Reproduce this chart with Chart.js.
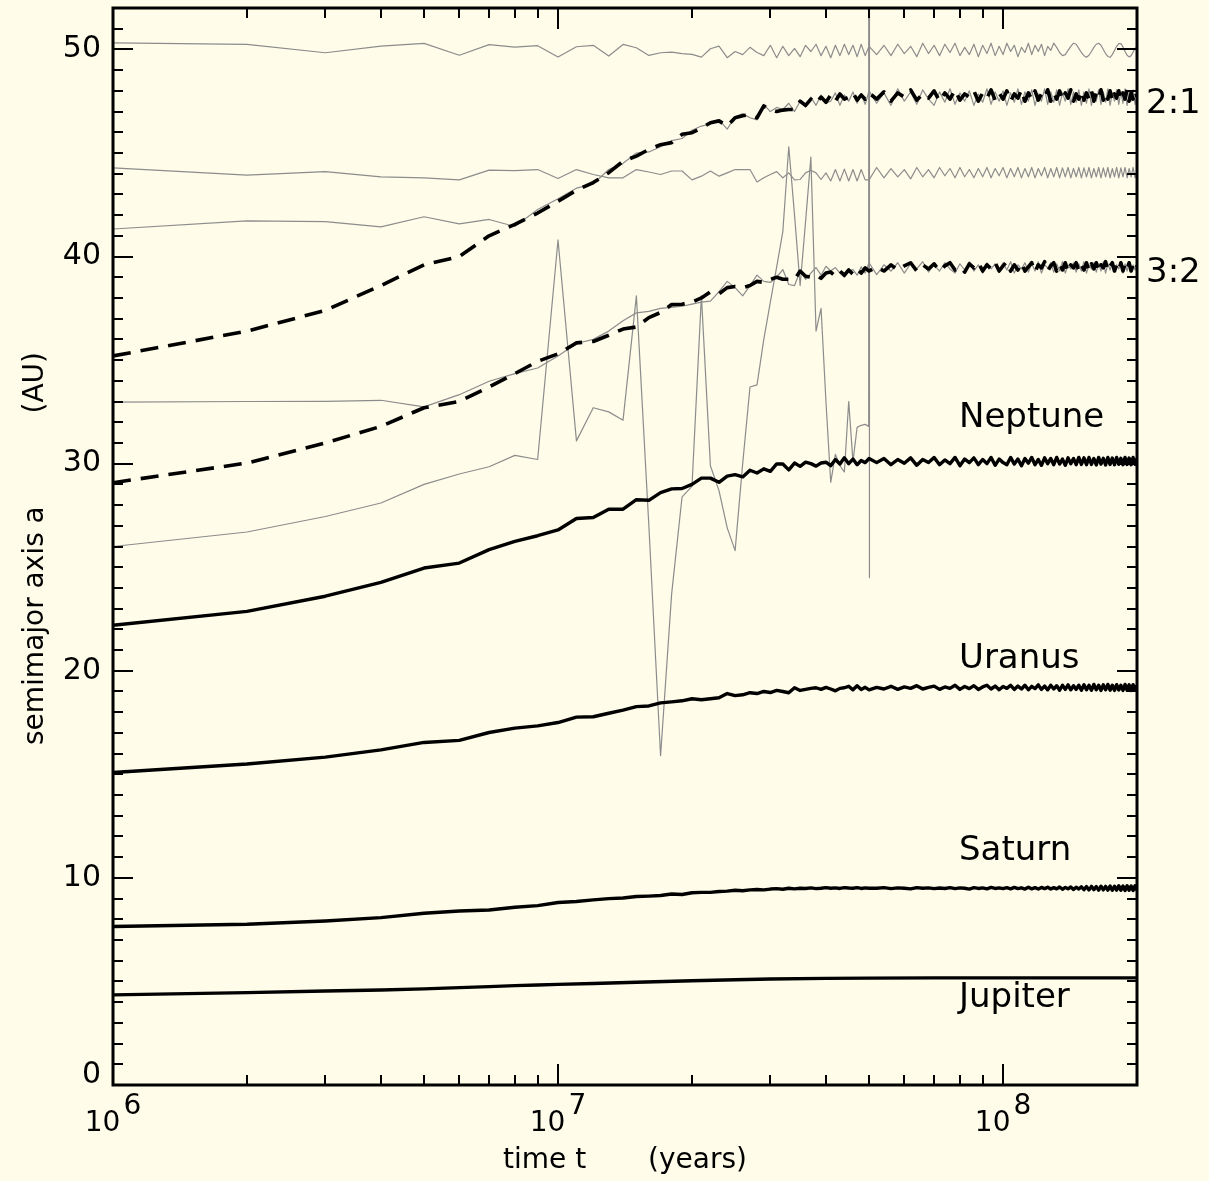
<!DOCTYPE html>
<html>
<head>
<meta charset="utf-8">
<title>Semimajor axis vs time</title>
<script src="https://cdn.jsdelivr.net/npm/chart.js@4.4.1/dist/chart.umd.min.js"></script>
<style>
  html, body { margin: 0; padding: 0; background: #fffcea; }
  #wrap { width: 1209px; height: 1181px; }
</style>
</head>
<body>
<div id="wrap"><canvas id="chart" width="1209" height="1181"></canvas></div>
<script>
// ---- Data (time in Myr, semimajor axis in AU) ----
const timeMyr = [1,2,3,4,5,6,7,8,9,10,11,12,13,14,15,16,17,18,19,20,21,22,23,24,25,
  26,27,28,29,30,31,32,33,34,35,36,37,38,39,40,41,42,43,44,45,46,47,48,49,50,
  52,54,56,58,60,62,64,66,68,70,72,74,76,78,80,82,84,86,88,90,92,94,96,98,100,
  102,104,106,108,110,112,114,116,118,120,122,124,126,128,130,132,134,136,138,140,142,144,146,148,150,
  152,154,156,158,160,162,164,166,168,170,172,174,176,178,180,182,184,186,188,190,192,194,196,198,200];
const timeSmooth = [1,2,3,4,5,6,7,8,9,10,12,15,20,25,30,40,50,70,100,200];
const timeScatter = [1,2,3,4,5,6,7,8,9,10,11,12,13,14,15,16,17,18,19,20,21,22,23,24,25,
  26,27,28,29,30,31,32,33,34,35,36,37,38,39,40,41,42,43,44,45,46,47,48,49,49.9,50,50.1];

const jupiterAU = [4.35,4.46,4.54,4.59,4.64,4.70,4.75,4.80,4.83,4.86,4.90,4.96,5.03,5.08,5.12,5.15,5.16,5.17,5.17,5.17];

const saturnAU = [7.65,7.76,7.92,8.08,8.29,8.40,8.45,8.58,8.66,8.81,
  8.86,8.94,9.00,9.03,9.10,9.12,9.15,9.22,9.20,9.28,
  9.30,9.30,9.34,9.36,9.40,9.38,9.42,9.44,9.42,9.46,
  9.48,9.45,9.50,9.47,9.50,9.49,9.52,9.48,9.50,9.53,
  9.50,9.52,9.49,9.53,9.51,9.50,9.53,9.49,9.52,9.50,
  9.50,9.53,9.48,9.52,9.50,9.47,9.53,9.50,9.52,9.48,9.51,9.49,9.53,9.48,9.52,9.50,9.46,9.53,9.49,9.52,9.47,9.54,9.49,9.52,9.48,
  9.53,9.47,9.54,9.48,9.52,9.46,9.55,9.47,9.53,9.46,9.54,9.48,9.55,9.46,9.53,9.47,9.56,9.45,9.54,9.47,9.56,9.44,9.55,9.46,9.57,
  9.43,9.58,9.42,9.59,9.43,9.58,9.41,9.60,9.42,9.59,9.41,9.61,9.40,9.60,9.41,9.62,9.40,9.61,9.39,9.62,9.40,9.61,9.39,9.62,9.40];

const uranusAU = [15.09,15.50,15.83,16.18,16.54,16.64,17.02,17.23,17.34,17.50,
  17.76,17.78,17.95,18.10,18.27,18.30,18.45,18.50,18.55,18.65,
  18.60,18.65,18.70,18.90,18.80,18.84,18.94,18.90,19.00,18.95,
  19.05,19.00,18.94,19.18,19.05,19.10,19.15,19.18,19.10,19.20,
  19.12,19.03,19.15,19.18,19.25,19.08,19.28,19.10,19.20,19.08,
  19.20,19.12,19.25,19.10,19.22,19.15,19.28,19.12,19.20,19.26,19.10,19.22,19.15,19.30,19.10,19.24,19.14,19.28,19.10,19.22,19.30,19.12,19.26,19.08,19.24,
  19.15,19.30,19.10,19.26,19.12,19.30,19.08,19.25,19.14,19.32,19.10,19.26,19.08,19.30,19.12,19.28,19.06,19.30,19.10,19.32,19.08,19.28,19.10,19.30,19.06,
  19.32,19.08,19.30,19.06,19.34,19.08,19.30,19.05,19.32,19.08,19.34,19.06,19.30,19.05,19.33,19.07,19.30,19.05,19.34,19.06,19.32,19.05,19.33,19.07,19.30];

const neptuneAU = [22.20,22.87,23.60,24.27,24.96,25.20,25.85,26.25,26.52,26.80,
  27.35,27.40,27.80,27.80,28.26,28.23,28.60,28.78,28.80,29.00,
  29.30,29.30,29.10,29.40,29.47,29.36,29.68,29.55,29.75,29.63,
  29.99,29.98,29.70,30.03,29.87,30.07,30.00,29.88,30.03,30.07,
  29.90,30.20,29.98,30.28,30.00,30.22,29.95,30.15,30.05,30.25,
  30.05,30.25,29.95,30.20,30.02,30.28,29.92,30.20,30.05,30.30,29.95,30.18,30.00,30.30,29.90,30.22,30.05,30.28,29.95,30.20,30.00,30.30,29.92,30.22,30.05,
  29.95,30.30,29.98,30.22,29.90,30.25,30.02,30.30,29.95,30.20,29.92,30.28,30.00,30.25,29.95,30.30,29.98,30.22,29.92,30.28,30.00,30.25,29.95,30.30,29.96,
  30.28,29.95,30.30,29.96,30.25,29.94,30.30,29.98,30.26,29.94,30.30,29.96,30.27,29.95,30.30,29.97,30.26,29.95,30.30,29.96,30.27,29.95,30.30,29.97,30.25];

// resonance tracks (dashed)
const res32AU = [29.08,30.03,31.00,31.80,32.70,33.00,33.70,34.35,34.94,35.30,
  35.83,35.90,36.20,36.50,36.60,37.05,37.30,37.68,37.70,37.80,
  38.00,38.30,38.20,38.50,38.55,38.50,38.60,38.80,38.75,38.90,
  39.00,38.90,38.90,38.90,39.30,39.05,39.00,39.10,38.95,39.20,
  39.25,39.05,39.30,39.10,39.35,39.15,39.40,39.20,39.45,39.30,
  39.50,39.30,39.60,39.35,39.55,39.70,39.30,39.60,39.40,39.65,39.30,39.55,39.70,39.35,39.50,39.25,39.65,39.45,39.70,39.30,39.60,39.40,39.70,39.30,39.55,
  39.75,39.30,39.60,39.35,39.70,39.30,39.50,39.70,39.25,39.60,39.45,39.75,39.30,39.55,39.70,39.30,39.65,39.35,39.70,39.25,39.60,39.45,39.70,39.30,39.60,
  39.35,39.70,39.30,39.65,39.40,39.70,39.25,39.60,39.45,39.75,39.30,39.55,39.70,39.30,39.60,39.35,39.70,39.30,39.65,39.40,39.70,39.30,39.60,39.35,39.55];

const res21AU = [35.20,36.40,37.40,38.60,39.60,40.00,41.00,41.55,42.10,42.67,
  43.20,43.57,44.05,44.60,44.85,45.17,45.40,45.50,45.90,45.98,
  46.20,46.46,46.55,46.30,46.70,46.80,46.86,46.70,47.27,47.10,
  47.00,47.07,47.10,47.10,47.50,47.30,47.60,47.40,47.70,47.45,
  47.80,47.50,47.85,47.60,47.70,47.90,47.55,47.80,47.60,47.90,
  47.60,47.95,47.50,47.90,47.70,48.05,47.55,47.85,47.65,48.00,47.50,47.90,47.60,48.05,47.55,47.85,47.70,48.00,47.50,47.90,47.65,48.05,47.55,47.90,47.60,
  48.00,47.50,47.85,47.65,48.05,47.50,47.90,47.60,48.00,47.55,47.85,47.65,48.05,47.50,47.90,47.60,48.00,47.55,47.90,47.65,48.05,47.50,47.85,47.60,48.00,
  47.55,47.90,47.60,48.00,47.50,47.90,47.65,48.05,47.55,47.90,47.60,48.00,47.50,47.85,47.65,48.00,47.55,47.90,47.60,48.05,47.50,47.90,47.60,48.00,47.70];

// test particles (thin grey)
const particle50AU = [50.32,50.24,49.84,50.16,50.29,49.72,50.23,50.11,50.18,49.63,
  50.13,50.20,49.68,50.24,50.08,49.71,49.84,49.87,49.80,49.76,
  49.63,50.03,50.16,49.60,49.90,49.75,50.10,49.85,49.70,50.20,
  49.60,50.15,49.70,50.05,49.65,50.20,49.90,50.25,49.70,50.15,
  49.60,50.20,49.70,50.25,49.75,50.20,49.65,50.25,49.70,50.15,
  49.75,50.20,49.70,50.25,49.80,50.15,49.65,50.30,49.80,50.20,49.70,50.25,49.85,50.30,49.70,50.10,49.75,50.25,49.65,50.20,49.80,50.30,49.70,50.15,49.75,
  50.30,49.90,50.20,49.65,50.10,49.85,50.30,49.75,50.20,49.90,50.25,49.70,50.15,49.95,50.30,50.10,49.85,49.70,49.75,49.95,50.15,50.30,50.25,50.05,49.85,
  49.70,49.62,49.72,49.90,50.10,50.25,50.30,50.20,50.00,49.80,49.66,49.62,49.75,49.95,50.15,50.28,50.28,50.12,49.90,49.72,49.64,49.70,49.88,50.05,50.10];

const particle44AU = [44.28,43.93,44.10,43.85,43.80,43.70,44.17,44.15,44.20,43.77,
  44.20,43.96,43.80,43.80,44.20,44.08,43.96,44.13,44.13,43.70,
  43.88,44.13,43.88,44.04,44.20,44.20,44.20,43.60,43.80,43.96,
  44.10,43.80,44.04,43.70,43.72,44.04,44.17,44.04,43.72,44.04,
  43.65,44.20,43.65,44.22,43.65,44.20,43.65,44.20,43.70,43.70,
  44.30,43.80,44.25,43.85,44.20,43.75,44.30,43.85,44.20,43.80,44.30,43.90,44.25,43.80,44.30,43.85,44.20,43.80,44.25,43.85,44.30,43.80,44.25,43.90,44.30,
  43.80,44.25,43.85,44.30,43.80,44.25,43.85,44.30,43.80,44.25,43.90,44.30,43.80,44.25,43.85,44.30,43.80,44.28,43.85,44.30,43.80,44.25,43.85,44.30,43.80,
  44.28,43.85,44.30,43.80,44.25,43.85,44.30,43.80,44.28,43.85,44.30,43.80,44.25,43.85,44.30,43.80,44.28,43.85,44.30,43.80,44.25,43.85,44.30,43.80,44.05];

const particle41AU = [41.33,41.72,41.69,41.43,41.92,41.58,41.79,41.45,42.27,42.79,
  43.30,43.50,44.20,44.50,45.00,45.05,45.30,45.60,45.70,46.10,
  46.30,46.40,46.60,46.15,46.75,46.90,46.70,46.60,47.35,47.00,
  47.20,47.10,47.40,47.00,47.50,47.20,47.70,47.30,47.80,47.40,
  47.50,47.90,47.30,47.80,47.50,47.95,47.40,47.85,47.35,48.00,
  47.40,47.90,47.30,48.10,47.50,47.95,47.35,48.05,47.60,47.30,47.95,47.45,48.10,47.35,47.90,47.50,48.00,47.30,47.85,47.45,48.10,47.35,47.95,47.50,48.00,
  47.30,47.90,47.45,48.10,47.35,47.95,47.50,48.05,47.30,47.85,47.50,48.10,47.35,47.95,47.45,48.05,47.30,47.90,47.50,48.10,47.35,47.95,47.45,48.05,47.30,
  47.95,47.40,48.10,47.30,47.90,47.50,48.05,47.35,47.95,47.45,48.10,47.30,47.90,47.50,48.05,47.35,47.95,47.40,48.10,47.30,47.90,47.50,48.05,47.35,47.80];

const particle33AU = [32.97,33.00,33.01,33.06,32.74,33.33,33.98,34.35,34.62,35.20,
  35.80,36.00,36.40,36.90,37.28,37.35,37.50,37.55,37.60,37.70,
  37.80,37.85,38.30,38.80,38.50,38.10,38.60,39.10,38.80,38.75,
  39.00,39.37,38.65,38.60,39.30,38.90,39.20,39.47,39.10,39.53,
  39.30,39.47,39.20,39.00,39.30,39.37,39.10,39.50,39.20,39.70,
  39.13,39.60,39.30,39.70,39.20,39.65,39.40,39.75,39.25,39.60,39.30,39.70,39.40,39.20,39.65,39.35,39.75,39.30,39.60,39.20,39.70,39.40,39.65,39.25,39.70,
  39.35,39.75,39.20,39.60,39.40,39.70,39.25,39.65,39.30,39.75,39.20,39.60,39.45,39.70,39.25,39.65,39.30,39.75,39.20,39.60,39.40,39.70,39.25,39.65,39.30,
  39.75,39.20,39.60,39.40,39.70,39.25,39.65,39.30,39.75,39.20,39.65,39.35,39.70,39.25,39.60,39.40,39.75,39.20,39.65,39.30,39.70,39.25,39.60,39.35,39.70];

// scattered particle, ejected near 50 Myr
const particle26AU = [26.00,26.70,27.45,28.10,29.00,29.50,29.85,30.40,30.20,40.80,
  31.10,32.70,32.50,32.10,38.10,27.00,15.90,23.70,28.40,28.90,
  38.10,29.90,28.70,26.90,25.80,30.00,33.70,33.80,36.00,37.80,
  39.50,41.20,45.30,42.00,38.60,41.70,44.80,36.40,37.50,33.00,
  29.10,30.45,29.90,29.60,33.00,30.10,31.75,31.85,31.90,31.80,300,24.50];

// axis ticks and labels
const yTickLabels = [0, 10, 20, 30, 40, 50];
const xMajorMyr = [1, 10, 100];
const xMinorMyr = [2,3,4,5,6,7,8,9,20,30,40,50,60,70,80,90,200];
const planetLabels = ["Jupiter", "Saturn", "Uranus", "Neptune"];
const resonanceLabels = ["2:1", "3:2"];

// ---- Helpers ----
const BG = "#fffcea";
const GREY = "#8c8c8c";
const FONT = '"DejaVu Sans", "Liberation Sans", sans-serif';

function pts(times, values) {
  const n = Math.min(times.length, values.length);
  const out = [];
  for (let i = 0; i < n; i++) out.push({ x: times[i], y: values[i] });
  return out;
}

function greyLine(times, values) {
  return { data: pts(times, values), borderColor: GREY, borderWidth: 1.2, order: 3 };
}
function planetLine(times, values) {
  return { data: pts(times, values), borderColor: "#000", borderWidth: 3.4, order: 1 };
}
function resonanceLine(times, values) {
  return { data: pts(times, values), borderColor: "#000", borderWidth: 3.6, borderDash: [18, 10], order: 2 };
}

// ---- Plugins ----
const backgroundPlugin = {
  id: "background",
  beforeDraw(chart) {
    const c = chart.ctx;
    c.save();
    c.fillStyle = BG;
    c.fillRect(0, 0, chart.width, chart.height);
    c.restore();
  }
};

const framePlugin = {
  id: "frame",
  afterDraw(chart) {
    const { ctx, chartArea: a } = chart;
    const x = chart.scales.x, y = chart.scales.y;

    function seg(x1, y1, x2, y2) {
      ctx.beginPath();
      ctx.moveTo(x1, y1);
      ctx.lineTo(x2, y2);
      ctx.stroke();
    }

    ctx.save();
    ctx.strokeStyle = "#000";
    ctx.lineWidth = 2;

    // y ticks every 1 AU, longer every 10
    for (let v = 1; v < y.max; v++) {
      const py = Math.round(y.getPixelForValue(v));
      const len = v % 10 === 0 ? 20 : 10;
      seg(a.left, py, a.left + len, py);
      seg(a.right, py, a.right - len, py);
    }
    // x ticks
    xMinorMyr.forEach((m) => {
      const px = Math.round(x.getPixelForValue(m));
      seg(px, a.bottom, px, a.bottom - 10);
      seg(px, a.top, px, a.top + 10);
    });
    xMajorMyr.forEach((m) => {
      const px = Math.round(x.getPixelForValue(m));
      seg(px, a.bottom, px, a.bottom - 21);
      seg(px, a.top, px, a.top + 21);
    });

    // frame
    ctx.lineWidth = 3;
    ctx.strokeRect(a.left, a.top, a.right - a.left, a.bottom - a.top);

    // y tick labels
    ctx.fillStyle = "#000";
    ctx.font = "30px " + FONT;
    ctx.textAlign = "right";
    ctx.textBaseline = "middle";
    yTickLabels.forEach((v) => {
      const py = Math.min(y.getPixelForValue(v), a.bottom - 10);
      ctx.fillText(String(v), 101, py);
    });

    // x tick labels: 10^n
    ctx.textAlign = "left";
    ctx.textBaseline = "alphabetic";
    ctx.font = "28px " + FONT;
    xMajorMyr.forEach((m) => {
      const px = x.getPixelForValue(m);
      const exp = String(6 + Math.round(Math.log10(m)));
      const w10 = ctx.measureText("10").width;
      const we = ctx.measureText(exp).width;
      const x0 = px - (w10 + we + 3) / 2;
      ctx.fillText("10", x0, 1131);
      ctx.fillText(exp, x0 + w10 + 3, 1114);
    });

    // axis titles
    ctx.font = "28px " + FONT;
    ctx.fillText("time t", 503, 1168);
    ctx.fillText("(years)", 648, 1168);

    ctx.save();
    ctx.translate(43, 745);
    ctx.rotate(-Math.PI / 2);
    ctx.textAlign = "left";
    ctx.fillText("semimajor axis a", 0, 0);
    ctx.restore();
    ctx.save();
    ctx.translate(43, 352);
    ctx.rotate(-Math.PI / 2);
    ctx.textAlign = "right";
    ctx.fillText("(AU)", 0, 0);
    ctx.restore();

    // planet and resonance labels
    ctx.font = "34px " + FONT;
    ctx.textBaseline = "middle";
    ctx.textAlign = "left";
    const planetY = [998, 851, 659, 418];
    planetLabels.forEach((t, i) => ctx.fillText(t, 959, planetY[i]));
    const resY = [104, 273];
    resonanceLabels.forEach((t, i) => ctx.fillText(t, 1146, resY[i]));

    ctx.restore();
  }
};

// ---- Chart ----
const datasets = [
  greyLine(timeMyr, particle50AU),
  greyLine(timeMyr, particle44AU),
  greyLine(timeMyr, particle41AU),
  greyLine(timeMyr, particle33AU),
  greyLine(timeScatter, particle26AU),
  resonanceLine(timeMyr, res21AU),
  resonanceLine(timeMyr, res32AU),
  planetLine(timeMyr, neptuneAU),
  planetLine(timeMyr, uranusAU),
  planetLine(timeMyr, saturnAU),
  planetLine(timeSmooth, jupiterAU)
];

new Chart(document.getElementById("chart"), {
  type: "line",
  data: { datasets: datasets },
  options: {
    responsive: false,
    animation: false,
    events: [],
    layout: { padding: { left: 113, right: 72, top: 8, bottom: 96 } },
    elements: {
      point: { radius: 0 },
      line: { tension: 0, fill: false, borderJoinStyle: "round", borderCapStyle: "butt" }
    },
    scales: {
      x: { type: "logarithmic", min: 1, max: 200, display: false },
      y: { type: "linear", min: 0, max: 52, display: false }
    },
    plugins: { legend: { display: false }, tooltip: { enabled: false } }
  },
  plugins: [backgroundPlugin, framePlugin]
});
</script>
</body>
</html>
